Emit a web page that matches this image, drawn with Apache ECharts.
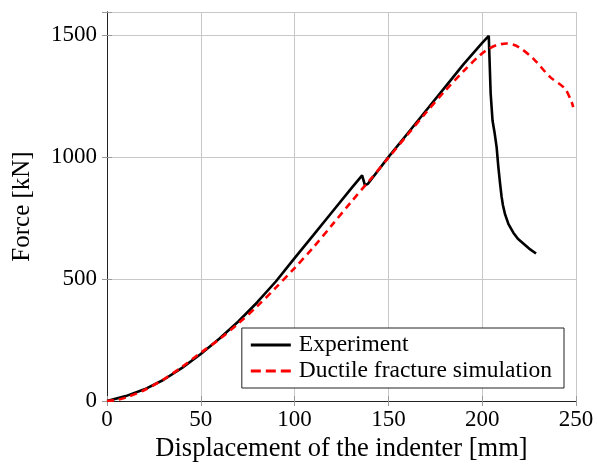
<!DOCTYPE html>
<html>
<head>
<meta charset="utf-8">
<script src="https://cdn.jsdelivr.net/npm/echarts@6/dist/echarts.min.js"></script>
<style>
html, body { margin: 0; padding: 0; background: #fff; }
#chart { width: 598px; height: 468px; }
</style>
</head>
<body>
<div id="chart"></div>
<script>
// 实验曲线 [位移 mm, 力 kN]
var expX = [0, 10, 20, 30, 40, 50, 60, 70, 80, 90, 100, 110, 120, 130, 136, 137.5, 139, 150, 160, 170, 180, 190, 200, 203.5, 204, 204.5, 205.5, 206.6, 207.7, 208.6, 209.5, 210.3, 211, 212.2, 214, 216.6, 219, 221.9, 225, 228.7];
var expY = [0, 20, 48, 86, 136, 193, 256, 326, 404, 490, 586, 680, 775, 870, 925, 884, 890, 1000, 1095, 1190, 1285, 1380, 1468, 1497, 1380, 1262, 1150, 1100, 1040, 960, 893, 840, 805, 765, 725, 690, 665, 646, 625, 605];

// 数值模拟曲线
var simX = [0, 5, 10, 20, 30, 40, 50, 60, 70, 80, 90, 100, 110, 120, 130, 140, 150, 160, 170, 180, 190, 198.8, 203, 207.7, 213, 219.2, 227.2, 236.1, 244.1, 247.6, 248.5];
var simY = [0, 4, 14, 45, 88, 140, 198, 254, 318, 388, 465, 545, 630, 722, 815, 905, 997, 1090, 1182, 1270, 1352, 1418, 1442, 1459, 1466, 1452, 1404, 1329, 1281, 1227, 1205];

var xTicks = [0, 50, 100, 150, 200, 250];
var yTicks = [0, 500, 1000, 1500];

function pairs(xs, ys) {
    var arr = [];
    for (var i = 0; i < xs.length; i++) arr.push([xs[i], ys[i]]);
    return arr;
}

var myChart = echarts.init(document.getElementById('chart'));
var font = 'Liberation Serif';

var axisLine = { show: true, lineStyle: { color: '#222', width: 1 } };
var tick = { show: true, inside: true, length: 5, lineStyle: { color: '#999' } };

var option = {
    animation: false,
    backgroundColor: '#fff',
    textStyle: { fontFamily: font },
    grid: { left: 107, right: 22, top: 12, bottom: 67 },
    legend: {
        right: 34,
        bottom: 80,
        orient: 'vertical',
        itemWidth: 40,
        itemHeight: 14,
        itemGap: 2,
        padding: [5, 12, 5, 9],
        borderColor: '#222',
        borderWidth: 1,
        backgroundColor: '#fff',
        textStyle: { fontFamily: font, fontSize: 23.5, color: '#000', padding: [0, 0, 0, 3] },
        data: [
            { name: 'Experiment', icon: 'path://M0,0 L40,0 L40,3 L0,3 Z' },
            { name: 'Ductile fracture simulation', icon: 'path://M0,0 L10,0 L10,3 L0,3 Z M15,0 L25,0 L25,3 L15,3 Z M30,0 L40,0 L40,3 L30,3 Z' }
        ]
    },
    xAxis: [
        {
            type: 'value',
            min: 0, max: 250, interval: 50,
            name: 'Displacement of the indenter [mm]',
            nameLocation: 'middle',
            nameGap: 35,
            nameTextStyle: { fontFamily: font, fontSize: 26.5, color: '#000' },
            axisLine: axisLine,
            axisTick: tick,
            axisLabel: { fontFamily: font, fontSize: 23, color: '#000', margin: 7 },
            splitLine: { show: true, lineStyle: { color: '#c8c8c8', width: 1 } }
        },
        {
            type: 'value', position: 'top',
            min: 0, max: 250, interval: 50,
            axisLine: axisLine, axisTick: tick,
            axisLabel: { show: false }, splitLine: { show: false }
        }
    ],
    yAxis: [
        {
            type: 'value',
            min: 0, max: 1595, interval: 500,
            name: 'Force [kN]',
            nameLocation: 'middle',
            nameGap: 72,
            nameTextStyle: { fontFamily: font, fontSize: 25, color: '#000' },
            axisLine: axisLine,
            axisTick: tick,
            axisLabel: {
                fontFamily: font, fontSize: 23, color: '#000', margin: 10,
                formatter: function (v) { return yTicks.indexOf(v) >= 0 ? String(v) : ''; }
            },
            splitLine: { show: true, lineStyle: { color: '#c8c8c8', width: 1 } }
        },
        {
            type: 'value', position: 'right',
            min: 0, max: 1595, interval: 500,
            axisLine: axisLine, axisTick: tick,
            axisLabel: { show: false }, splitLine: { show: false }
        }
    ],
    series: [
        {
            name: 'Experiment',
            type: 'line',
            symbol: 'none',
            itemStyle: { color: '#000' },
            lineStyle: { color: '#000', width: 2.6 },
            data: pairs(expX, expY),
            z: 3
        },
        {
            name: 'Ductile fracture simulation',
            type: 'line',
            symbol: 'none',
            smooth: 0.3,
            itemStyle: { color: '#ff0000' },
            lineStyle: { color: '#ff0000', width: 2.6, type: [7, 5] },
            data: pairs(simX, simY),
            z: 4
        }
    ]
};

myChart.setOption(option);
</script>
</body>
</html>
